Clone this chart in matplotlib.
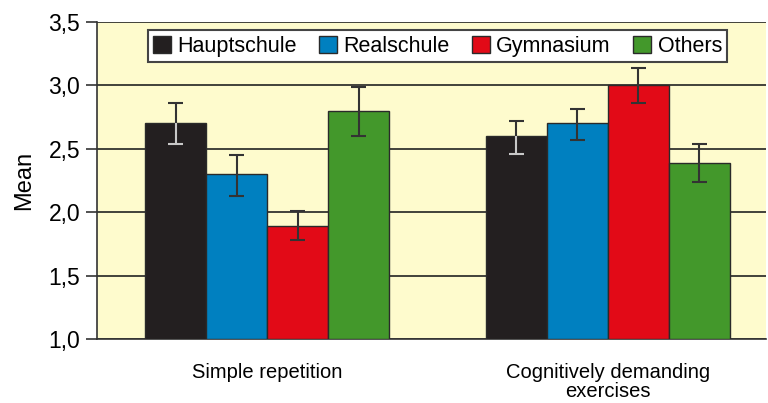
import numpy as np
import matplotlib.pyplot as plt

plt.rcParams['font.family'] = ['Liberation Sans', 'DejaVu Sans']

groups = ["Simple repetition", "Cognitively demanding\nexercises"]
schools = ["Hauptschule", "Realschule", "Gymnasium", "Others"]
colors = ["#231f20", "#0080c0", "#e20a17", "#43982b"]

# means per school: [simple repetition, cognitively demanding]
means = {
    "Hauptschule": [2.70, 2.60],
    "Realschule": [2.30, 2.70],
    "Gymnasium": [1.89, 3.00],
    "Others": [2.80, 2.39],
}
err_low = {
    "Hauptschule": [0.16, 0.14],
    "Realschule": [0.17, 0.13],
    "Gymnasium": [0.11, 0.14],
    "Others": [0.20, 0.15],
}
err_high = {
    "Hauptschule": [0.16, 0.12],
    "Realschule": [0.15, 0.11],
    "Gymnasium": [0.12, 0.14],
    "Others": [0.19, 0.15],
}

fig = plt.figure(figsize=(7.68, 4.03), dpi=100)
ax = fig.add_axes([0.1263, 0.1588, 0.8711, 0.7866])
ax.set_facecolor("#fefbcd")

x = np.arange(len(groups))
w = 0.179
cap = 0.022
for i, s in enumerate(schools):
    pos = x + (i - 1.5) * w
    m = np.array(means[s])
    ax.bar(pos, m - 1.0, bottom=1.0, width=w, color=colors[i],
           edgecolor="#2a2a2a", linewidth=1.0, label=s, zorder=3)
    lo = m - np.array(err_low[s])
    hi = m + np.array(err_high[s])
    low_col = "#c8c8c8" if s == "Hauptschule" else "#333333"
    ax.vlines(pos, m, hi, color="#333333", linewidth=1.5, zorder=4)
    ax.hlines(hi, pos - cap, pos + cap, color="#333333", linewidth=1.5, zorder=4)
    ax.vlines(pos, lo, m, color=low_col, linewidth=1.5, zorder=4)
    ax.hlines(lo, pos - cap, pos + cap, color=low_col, linewidth=1.5, zorder=4)

ax.set_ylim(1.0, 3.5)
ax.set_xlim(-0.5, 1.464)
yt = [1.0, 1.5, 2.0, 2.5, 3.0, 3.5]
ax.set_yticks(yt)
ax.set_yticklabels([f"{v:.1f}".replace(".", ",") for v in yt], fontsize=16.5)
ax.yaxis.grid(True, color="#222222", linewidth=1.2, zorder=0)
ax.set_axisbelow(True)
ax.tick_params(axis="y", length=8, width=1.2, color="#333333", pad=4)
ax.set_xticks(x)
ax.set_xticklabels(groups, fontsize=14.5, linespacing=1.05)
ax.tick_params(axis="x", length=0, pad=17)
ax.set_ylabel("Mean", fontsize=17, labelpad=10)

for side in ["top", "right"]:
    ax.spines[side].set_visible(False)
for side in ["left", "bottom"]:
    ax.spines[side].set_color("#333333")
    ax.spines[side].set_linewidth(1.2)

leg = ax.legend(loc="upper center", bbox_to_anchor=(0.509, 0.974), ncol=4,
                fontsize=15.5, frameon=True, fancybox=False,
                framealpha=1, edgecolor="#444444", handlelength=0.82,
                handleheight=0.82, handletextpad=0.3, columnspacing=1.05,
                borderpad=0.25, borderaxespad=0)
leg.get_frame().set_linewidth(1.5)
leg.set_zorder(5)

fig.savefig("out.png", dpi=100)
